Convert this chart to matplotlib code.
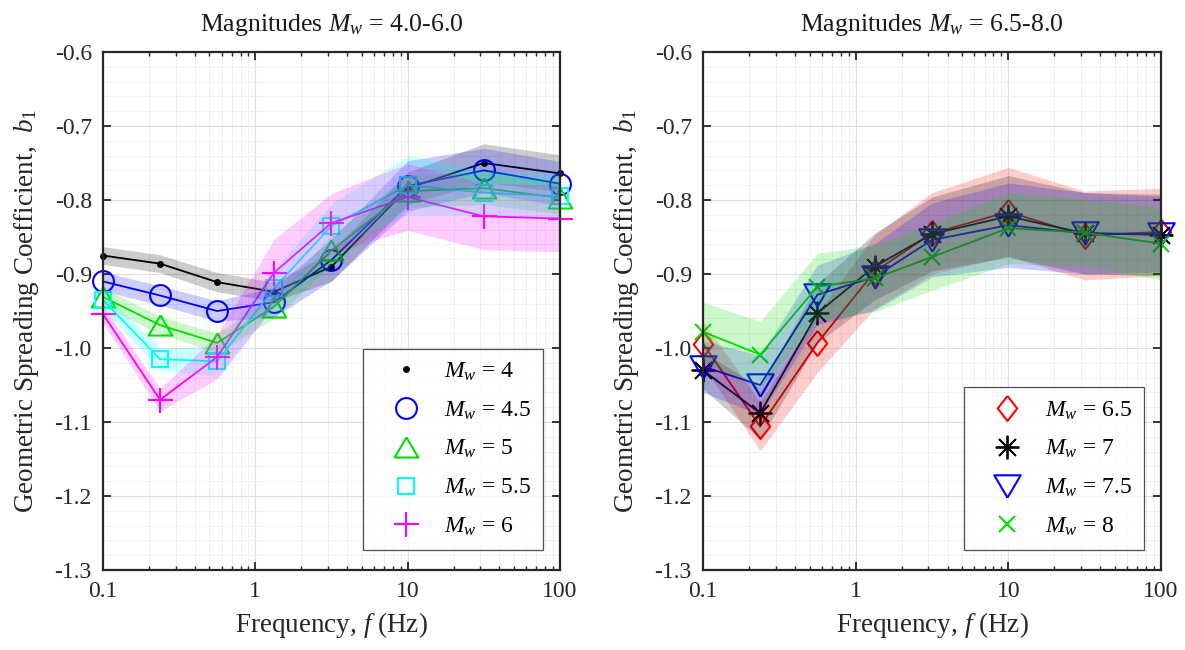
import matplotlib
matplotlib.use("Agg")
import matplotlib.pyplot as plt
from matplotlib.lines import Line2D
from matplotlib.ticker import FixedLocator, FuncFormatter, MultipleLocator, LogLocator, NullFormatter
import numpy as np

plt.rcParams['font.family'] = ['Liberation Serif', 'DejaVu Serif']
plt.rcParams['mathtext.fontset'] = 'custom'
plt.rcParams['mathtext.rm'] = 'Liberation Serif'
plt.rcParams['mathtext.it'] = 'Liberation Serif:italic'
plt.rcParams['mathtext.bf'] = 'Liberation Serif:bold'
plt.rcParams['axes.unicode_minus'] = False

# frequencies (Hz) where the coefficients are given
freq = [0.1, 0.237, 0.562, 1.33, 3.16, 10.0, 31.6, 100.0]

# ---- left panel: Mw 4.0 - 6.0 ----
b1_m40 = [-0.875, -0.886, -0.911, -0.924, -0.890, -0.784, -0.750, -0.764]
b1_m45 = [-0.910, -0.929, -0.950, -0.938, -0.881, -0.781, -0.760, -0.778]
b1_m50 = [-0.931, -0.969, -0.993, -0.944, -0.868, -0.788, -0.784, -0.797]
b1_m55 = [-0.935, -1.015, -1.018, -0.919, -0.835, -0.780, -0.790, -0.795]
b1_m60 = [-0.954, -1.070, -1.012, -0.898, -0.831, -0.796, -0.822, -0.825]

sd_m40 = [0.012, 0.012, 0.013, 0.013, 0.020, 0.022, 0.026, 0.025]
sd_m45 = [0.013, 0.013, 0.014, 0.020, 0.028, 0.034, 0.030, 0.030]
sd_m50 = [0.012, 0.012, 0.013, 0.016, 0.020, 0.022, 0.022, 0.022]
sd_m55 = [0.012, 0.015, 0.020, 0.025, 0.030, 0.040, 0.030, 0.030]
sd_m60 = [0.012, 0.015, 0.030, 0.045, 0.040, 0.045, 0.045, 0.045]

# ---- right panel: Mw 6.5 - 8.0 ----
b1_m65 = [-0.994, -1.106, -0.993, -0.897, -0.845, -0.816, -0.848, -0.843]
b1_m70 = [-1.030, -1.088, -0.953, -0.890, -0.846, -0.822, -0.845, -0.847]
b1_m75 = [-1.025, -1.050, -0.928, -0.904, -0.854, -0.834, -0.845, -0.846]
b1_m80 = [-0.978, -1.009, -0.917, -0.906, -0.877, -0.838, -0.844, -0.859]

sd_m65 = [0.030, 0.033, 0.040, 0.050, 0.055, 0.060, 0.060, 0.059]
sd_m70 = [0.025, 0.035, 0.040, 0.045, 0.050, 0.055, 0.055, 0.055]
sd_m75 = [0.035, 0.040, 0.040, 0.045, 0.050, 0.057, 0.055, 0.051]
sd_m80 = [0.040, 0.045, 0.045, 0.045, 0.045, 0.048, 0.045, 0.049]

left_labels = ['4', '4.5', '5', '5.5', '6']
right_labels = ['6.5', '7', '7.5', '8']

# marker shapes similar to MATLAB's
tri_up = [(0, 0.85), (-1, -0.85), (1, -0.85), (0, 0.85)]
tri_dn = [(0, -0.85), (-1, 0.85), (1, 0.85), (0, -0.85)]
diamond = [(0, 1), (0.78, 0), (0, -1), (-0.78, 0), (0, 1)]

left_series = [
    (b1_m40, sd_m40, 'black', dict(marker='o', ms=5, mfc='black', mew=0)),
    (b1_m45, sd_m45, '#0000ff', dict(marker='o', ms=15, mfc='none', mew=1.5)),
    (b1_m50, sd_m50, '#00e000', dict(marker=tri_up, ms=17, mfc='none', mew=1.5)),
    (b1_m55, sd_m55, '#00ffff', dict(marker='s', ms=11.5, mfc='none', mew=1.5)),
    (b1_m60, sd_m60, '#ff00ff', dict(marker='+', ms=18, mew=1.5)),
]
right_series = [
    (b1_m65, sd_m65, '#ff0000', dict(marker=diamond, ms=18, mfc='none', mew=1.5)),
    (b1_m70, sd_m70, 'black', dict(marker=(8, 2, 0), ms=17, mew=1.3)),
    (b1_m75, sd_m75, '#0000ff', dict(marker=tri_dn, ms=19, mfc='none', mew=1.5)),
    (b1_m80, sd_m80, '#00e000', dict(marker='x', ms=12, mew=1.5)),
]


def draw_panel(ax, series, labels, title):
    f = np.array(freq)
    handles = []
    for (vals, sd, color, mk), lab in zip(series, labels):
        vals = np.array(vals)
        sd = np.array(sd)
        ax.plot(f, vals, color=color, lw=1.3, zorder=2)
        ax.plot(f, vals, ls='none', color=color, mec=color, clip_on=False, zorder=2, **mk)
        ax.fill_between(f, vals - sd, vals + sd, color=color, alpha=0.2, lw=0, zorder=3)
        handles.append(Line2D([], [], ls='none', color=color, mec=color,
                              label=r'$M_w$ = ' + lab, **mk))

    ax.set_xscale('log')
    ax.set_xlim(0.1, 100)
    ax.set_ylim(-1.3, -0.6)
    ax.xaxis.set_major_locator(FixedLocator([0.1, 1, 10, 100]))
    ax.xaxis.set_major_formatter(FuncFormatter(lambda v, p: '%g' % v))
    ax.xaxis.set_minor_locator(LogLocator(base=10, subs=np.arange(2, 10)))
    ax.xaxis.set_minor_formatter(NullFormatter())
    ax.yaxis.set_major_locator(MultipleLocator(0.1))
    ax.yaxis.set_major_formatter(FuncFormatter(lambda v, p: '%.1f' % v))
    ax.yaxis.set_minor_locator(MultipleLocator(0.02))

    ax.grid(True, which='major', color='#dedede', lw=0.8, zorder=0)
    ax.grid(True, which='minor', color='#eeeeee', lw=0.6, zorder=0)
    ax.set_axisbelow(True)

    ax.tick_params(which='both', direction='in', top=True, right=True,
                   labelsize=17, colors='#262626', pad=8)
    ax.tick_params(which='major', length=6, width=1.3)
    ax.tick_params(which='minor', length=3, width=1.0)
    ax.tick_params(axis='y', which='minor', length=0)
    for sp in ax.spines.values():
        sp.set_linewidth(1.6)
        sp.set_color('#262626')
        sp.set_zorder(5)

    ax.set_title(title, fontsize=18.5, pad=15, color='#1a1a1a')
    ax.set_xlabel(r'Frequency, $f$ (Hz)', fontsize=19.5, color='#262626', labelpad=6)
    ax.set_ylabel(r'Geometric Spreading Coefficient,  $b_{\mathit{1}}$', fontsize=19.5,
                  color='#262626', labelpad=10)

    leg = ax.legend(handles=handles, loc='lower right', bbox_to_anchor=(0.962, 0.039),
                    borderaxespad=0, fontsize=17, frameon=True, fancybox=False,
                    labelspacing=0.7, handlelength=2.6, handletextpad=0.3,
                    borderpad=0.5)
    leg.get_frame().set_edgecolor('#262626')
    leg.get_frame().set_linewidth(0.9)
    leg.set_zorder(10)


fig = plt.figure(figsize=(11.85, 6.5), dpi=100)
ax1 = fig.add_axes([0.0869, 0.123, 0.3857, 0.797])
ax2 = fig.add_axes([0.5932, 0.123, 0.3865, 0.797])

draw_panel(ax1, left_series, left_labels, r'Magnitudes $M_w$ = 4.0-6.0')
draw_panel(ax2, right_series, right_labels, r'Magnitudes $M_w$ = 6.5-8.0')

fig.savefig('out.png', dpi=100)
